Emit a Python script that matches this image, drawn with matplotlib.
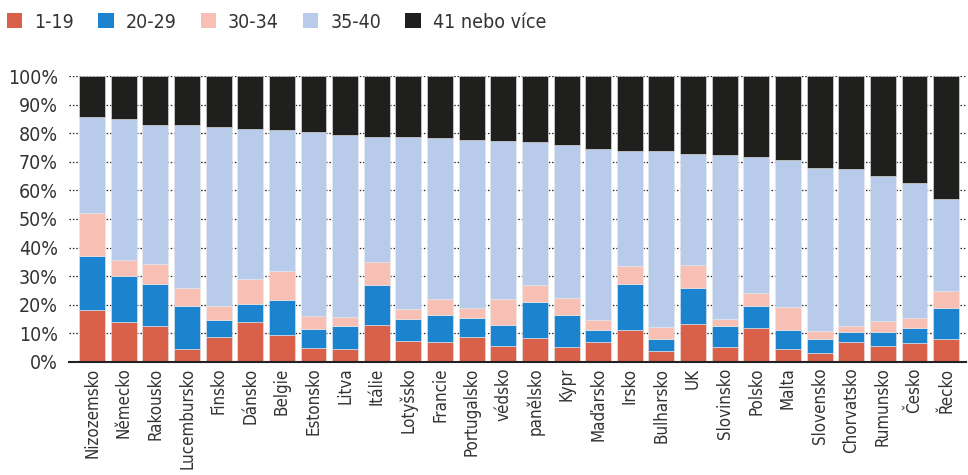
import matplotlib.pyplot as plt
from matplotlib.patches import Patch
from matplotlib import font_manager
import numpy as np

zeme = ['Nizozemsko', 'Německo', 'Rakousko', 'Lucembursko', 'Finsko', 'Dánsko',
        'Belgie', 'Estonsko', 'Litva', 'Itálie', 'Lotyšsko', 'Francie',
        'Portugalsko', 'védsko', 'panělsko', 'Kypr', 'Maďarsko', 'Irsko',
        'Bulharsko', 'UK', 'Slovinsko', 'Polsko', 'Malta', 'Slovensko',
        'Chorvatsko', 'Rumunsko', 'Česko', 'Řecko']

# podíly jednotlivých skupin v procentech
sk_1_19 = [18.1, 13.8, 12.4, 4.7, 8.6, 13.8, 9.3, 4.9, 4.7, 12.9, 7.4, 6.9,
           8.7, 5.5, 8.4, 5.3, 7.0, 11.2, 4.0, 13.3, 5.3, 11.9, 4.7, 3.0,
           6.9, 5.7, 6.7, 8.1]
sk_20_29 = [18.9, 16.1, 14.7, 14.8, 6.1, 6.3, 12.3, 6.6, 7.9, 14.1, 7.7, 9.4,
            6.8, 7.4, 12.6, 11.2, 4.3, 16.1, 4.0, 12.7, 7.1, 7.5, 6.6, 5.1,
            3.7, 4.8, 5.0, 10.6]
sk_30_34 = [15.1, 5.7, 7.2, 6.2, 4.8, 8.9, 10.3, 4.7, 3.2, 7.8, 3.5, 5.8,
            3.5, 9.2, 6.0, 5.7, 3.2, 6.3, 4.3, 7.8, 2.7, 4.8, 7.8, 2.7,
            2.1, 3.9, 3.6, 6.2]
sk_35_40 = [33.5, 49.4, 48.6, 57.0, 62.6, 52.6, 49.1, 64.1, 63.5, 43.8, 59.9, 56.3,
            58.6, 55.2, 49.9, 53.5, 59.9, 40.2, 61.3, 38.9, 57.1, 47.3, 51.5, 57.0,
            54.7, 50.5, 47.3, 32.1]
sk_41 = [14.4, 15.0, 17.1, 17.3, 17.9, 18.4, 19.0, 19.7, 20.7, 21.4, 21.5, 21.6,
         22.4, 22.7, 23.1, 24.3, 25.6, 26.2, 26.4, 27.3, 27.8, 28.5, 29.4, 32.2,
         32.6, 35.1, 37.4, 43.0]

skupiny = ['1-19', '20-29', '30-34', '35-40', '41 nebo více']
hodnoty = [sk_1_19, sk_20_29, sk_30_34, sk_35_40, sk_41]
barvy = ['#D9614A', '#1C84CF', '#F8C0B4', '#B9CBEB', '#1F1F1E']

# úzké písmo, pokud je k dispozici
nazvy = {f.name for f in font_manager.fontManager.ttflist}
if 'Liberation Sans Narrow' in nazvy:
    plt.rcParams['font.family'] = ['Liberation Sans Narrow', 'DejaVu Sans']
else:
    plt.rcParams['font.family'] = ['DejaVu Sans']
    plt.rcParams['font.stretch'] = 'condensed'

fig = plt.figure(figsize=(9.68, 4.75), dpi=100)
ax = fig.add_axes([0.0713, 0.238, 0.9267, 0.602])

x = np.arange(len(zeme))
spodek = np.zeros(len(zeme))
for nazev, hod, barva in zip(skupiny, hodnoty, barvy):
    hod = np.array(hod)
    ax.bar(x, hod, bottom=spodek, width=0.82, color=barva,
           edgecolor='#e8e8e8', linewidth=0.4, zorder=2)
    spodek += hod

ax.set_ylim(0, 100)
ax.set_xlim(-0.73, len(zeme) - 0.37)
ax.set_yticks(range(0, 101, 10))
ax.set_yticklabels([f'{v}%' for v in range(0, 101, 10)])
ax.yaxis.grid(True, linestyle=(0, (1.2, 1.5)), color='#222222', linewidth=0.9, zorder=0)
ax.set_axisbelow(True)

ax.set_xticks(x)
ax.set_xticklabels(zeme, rotation=90, va='top', ha='center')
ax.tick_params(axis='both', length=0, labelcolor='#333333')
ax.tick_params(axis='y', pad=8, labelsize=14)
ax.tick_params(axis='x', pad=4, labelsize=12.2)

for s in ['top', 'right', 'left']:
    ax.spines[s].set_visible(False)
ax.spines['bottom'].set_linewidth(1.5)
ax.spines['bottom'].set_color('#222222')

ruce = [Patch(facecolor=b, edgecolor='none') for b in barvy]
fig.legend(ruce, skupiny, loc='upper left', bbox_to_anchor=(-0.006, 1.0), ncol=5,
           frameon=False, fontsize=14, handlelength=0.8, handleheight=0.8,
           handletextpad=0.6, columnspacing=1.25, borderaxespad=0.25,
           labelcolor='#333333')

fig.savefig('out.png', dpi=100)
